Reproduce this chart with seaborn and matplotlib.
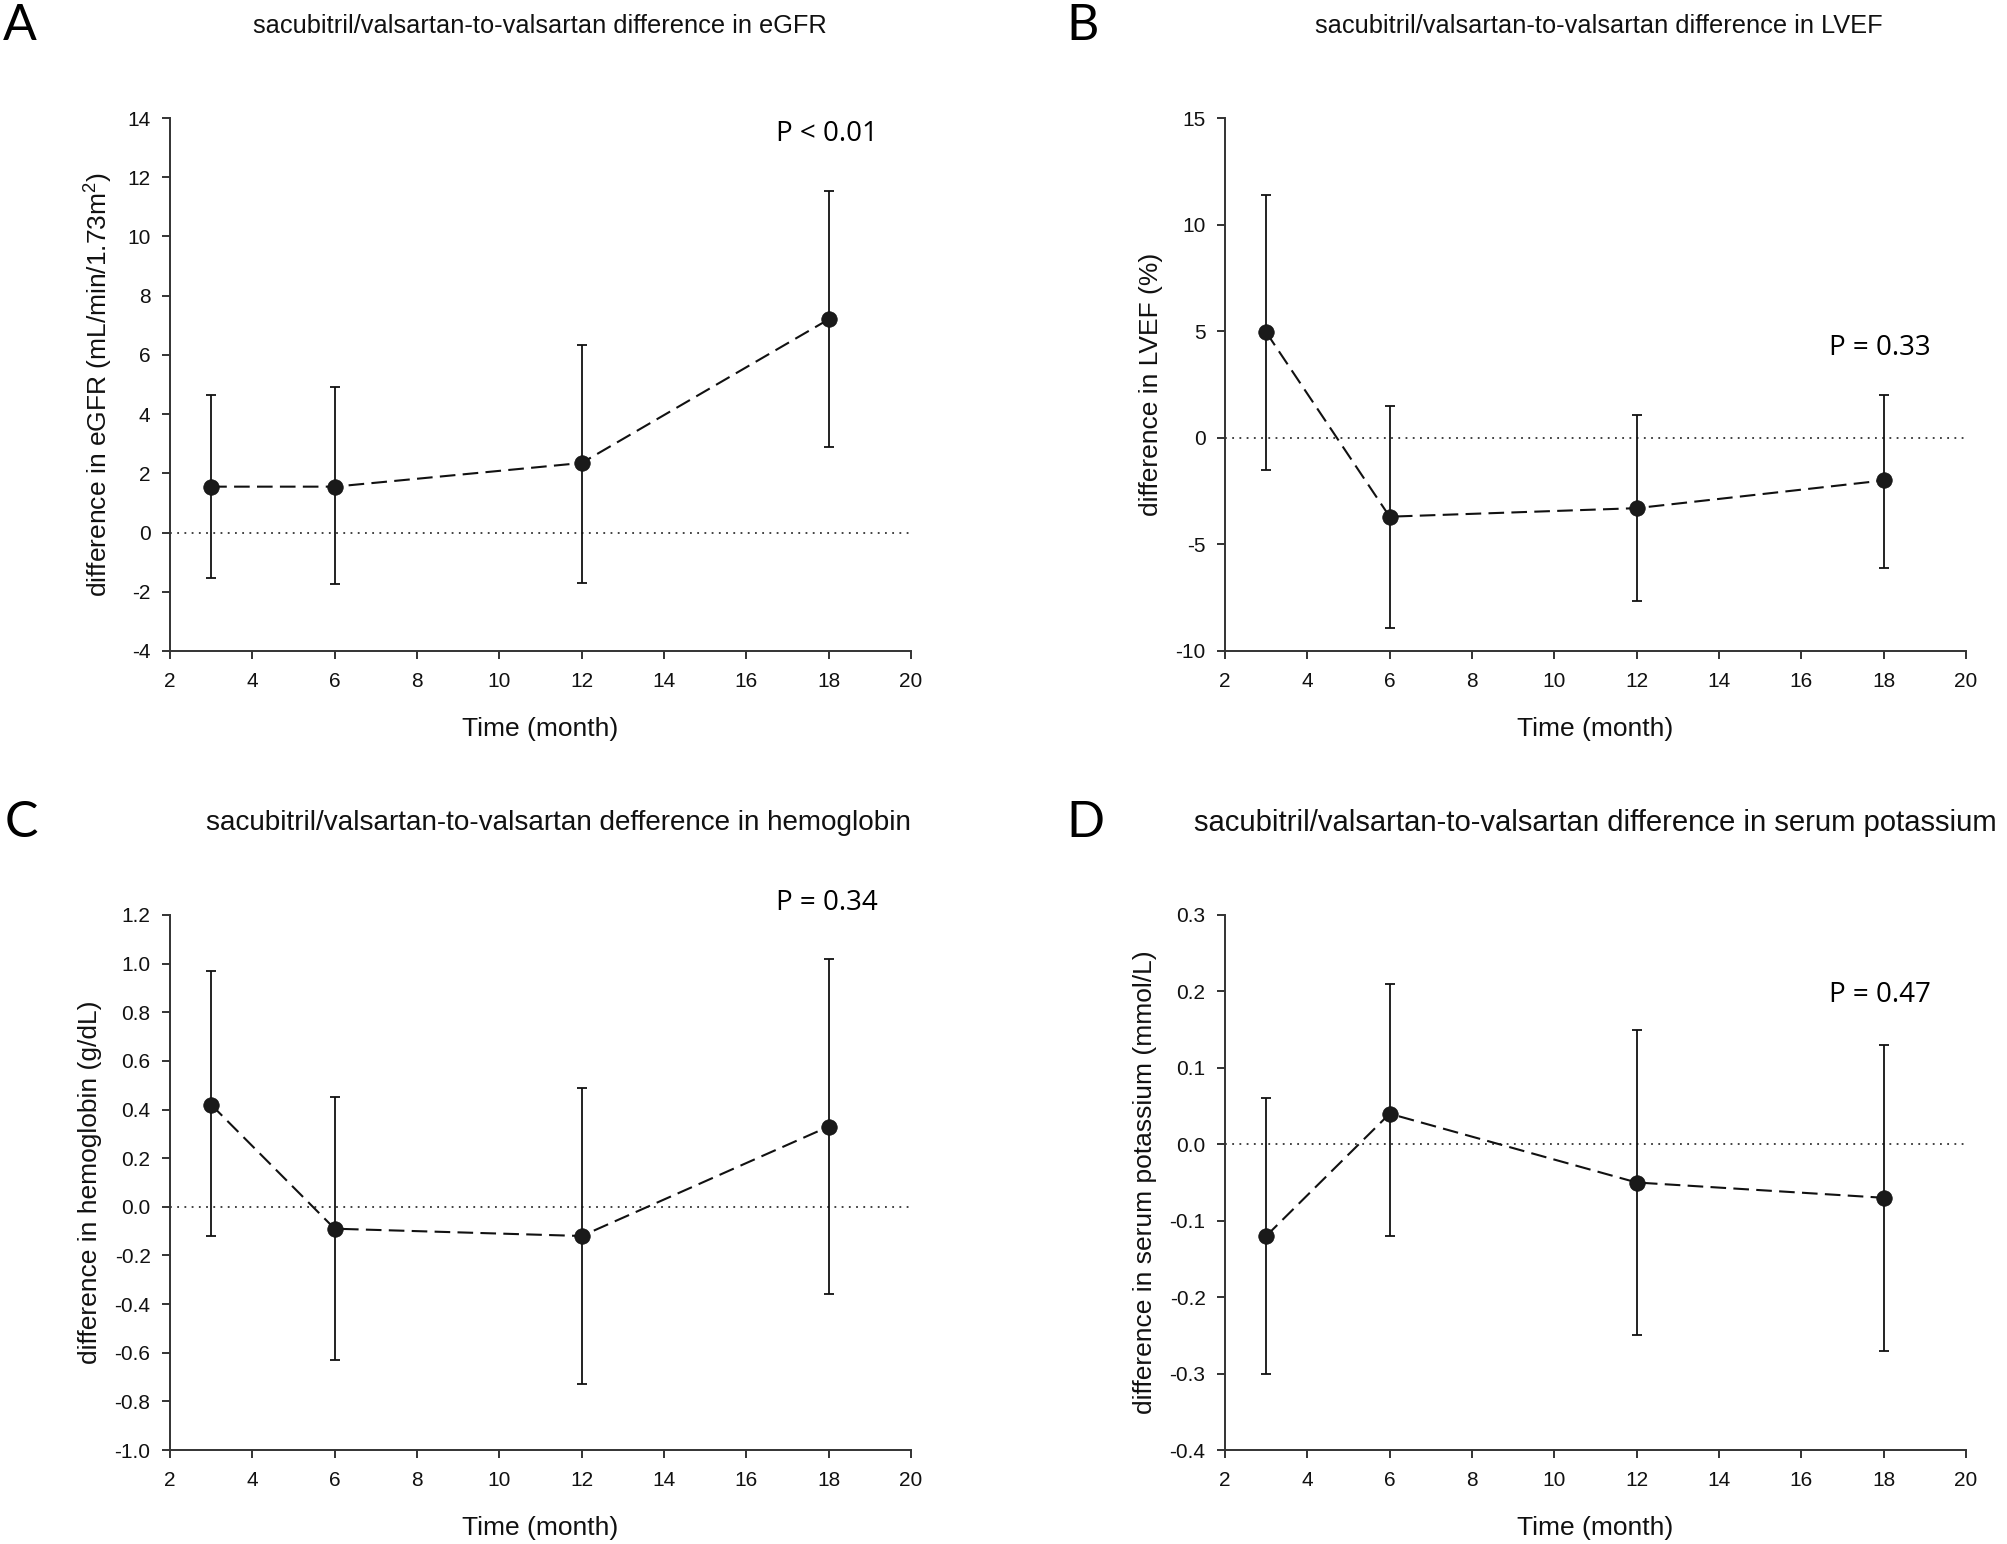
import matplotlib
matplotlib.use("Agg")
import matplotlib.pyplot as plt
import seaborn as sns
import numpy as np
import pandas as pd

sns.set_theme(style="white")
plt.rcParams['font.family'] = ['Liberation Sans', 'DejaVu Sans']
plt.rcParams['axes.unicode_minus'] = False
plt.rcParams['mathtext.default'] = 'regular'

months = [3, 6, 12, 18]

egfr_mean = [1.55, 1.55, 2.35, 7.2]
egfr_upper = [4.65, 4.9, 6.35, 11.55]
egfr_lower = [-1.55, -1.75, -1.7, 2.9]

lvef_mean = [4.95, -3.7, -3.3, -2.0]
lvef_upper = [11.4, 1.5, 1.05, 2.0]
lvef_lower = [-1.5, -8.9, -7.65, -6.1]

hb_mean = [0.42, -0.09, -0.12, 0.33]
hb_upper = [0.97, 0.45, 0.49, 1.02]
hb_lower = [-0.12, -0.63, -0.73, -0.36]

k_mean = [-0.12, 0.04, -0.05, -0.07]
k_upper = [0.06, 0.21, 0.15, 0.13]
k_lower = [-0.30, -0.12, -0.25, -0.27]

panel_letters = ['A', 'B', 'C', 'D']
titles = [
    'sacubitril/valsartan-to-valsartan difference in eGFR',
    'sacubitril/valsartan-to-valsartan difference in LVEF',
    'sacubitril/valsartan-to-valsartan defference in hemoglobin',
    'sacubitril/valsartan-to-valsartan difference in serum potassium',
]
ylabels = [
    'difference in eGFR (mL/min/1.73m$^2$)',
    'difference in LVEF (%)',
    'difference in hemoglobin (g/dL)',
    'difference in serum potassium (mmol/L)',
]
p_texts = ['P < 0.01', 'P = 0.33', 'P = 0.34', 'P = 0.47']
p_pos = [(17.95, 13.45), (17.9, 4.2), (17.95, 1.25), (17.9, 0.195)]
yticks = [
    list(range(-4, 15, 2)),
    [-10, -5, 0, 5, 10, 15],
    [-1.0, -0.8, -0.6, -0.4, -0.2, 0.0, 0.2, 0.4, 0.6, 0.8, 1.0, 1.2],
    [-0.4, -0.3, -0.2, -0.1, 0.0, 0.1, 0.2, 0.3],
]
ytick_fmt = ['{:.0f}', '{:.0f}', '{:.1f}', '{:.1f}']
xticks = list(range(2, 21, 2))

series = [
    (egfr_mean, egfr_lower, egfr_upper),
    (lvef_mean, lvef_lower, lvef_upper),
    (hb_mean, hb_lower, hb_upper),
    (k_mean, k_lower, k_upper),
]

W, H = 2007, 1544
fig = plt.figure(figsize=(W / 100, H / 100), dpi=100)
fig.patch.set_facecolor('white')

# axes rectangles in pixels: left, top, right, bottom
rects = [(170, 118, 911, 651), (1225, 118, 1966, 651),
         (170, 915, 911, 1450), (1225, 915, 1966, 1450)]
title_y = [26, 26, 823, 823]
title_x = [540, 1599, 558, 1595]
title_size = [18.3, 18.3, 20.1, 21.1]
letter_x = [3, 1066, 5, 1066]
axis_col = '#333333'

for i in range(4):
    l, t, r, b = rects[i]
    ax = fig.add_axes([l / W, 1 - b / H, (r - l) / W, (b - t) / H])
    mean, lo, hi = series[i]
    df = pd.DataFrame({'month': months, 'diff': mean})
    yerr = np.array([np.array(mean) - np.array(lo), np.array(hi) - np.array(mean)])
    ax.axhline(0, color='#333333', lw=1.3, ls=(0, (1, 3)), zorder=1)
    ax.errorbar(months, mean, yerr=yerr, fmt='none', ecolor='#111111',
                elinewidth=1.3, capsize=3.3, capthick=1.3, zorder=2)
    sns.lineplot(data=df, x='month', y='diff', ax=ax, color='#111111',
                 linewidth=1.5, zorder=3)
    ax.lines[-1].set_linestyle((0, (7.5, 3.5)))
    sns.scatterplot(data=df, x='month', y='diff', ax=ax, color='#1a1a1a',
                    s=125, edgecolor='#111111', linewidth=0.5, zorder=4)
    ax.set_xlim(2, 20)
    yt = yticks[i]
    ax.set_ylim(yt[0], yt[-1])
    ax.set_xticks(xticks)
    ax.set_xticklabels([str(x) for x in xticks])
    ax.set_yticks(yt)
    ax.set_yticklabels([ytick_fmt[i].format(v) for v in yt])
    for s in ['top', 'right']:
        ax.spines[s].set_visible(False)
    for s in ['left', 'bottom']:
        ax.spines[s].set_color(axis_col)
        ax.spines[s].set_linewidth(1.4)
    ax.tick_params(axis='both', direction='out', length=6, width=1.4,
                   color=axis_col, labelsize=15, labelcolor='#111111',
                   left=True, bottom=True)
    ax.tick_params(axis='y', pad=8)
    ax.tick_params(axis='x', pad=9)
    ax.set_xlabel('Time (month)', fontsize=19, color='#111111', labelpad=19)
    ax.set_ylabel(ylabels[i], fontsize=19, color='#111111', labelpad=9)
    ax.text(p_pos[i][0], p_pos[i][1], p_texts[i], ha='center', va='center',
            fontsize=20, family=['Open Sans', 'DejaVu Sans'], clip_on=False,
            color='black')
    fig.text(title_x[i] / W, 1 - title_y[i] / H, titles[i], ha='center',
             va='center', fontsize=title_size[i], color='#111111')
    fig.text(letter_x[i] / W, 1 - title_y[i] / H, panel_letters[i], ha='left',
             va='center', fontsize=36, color='black',
             family=['Lato', 'Open Sans', 'DejaVu Sans'])

fig.savefig('out.png', dpi=100, facecolor='white')
